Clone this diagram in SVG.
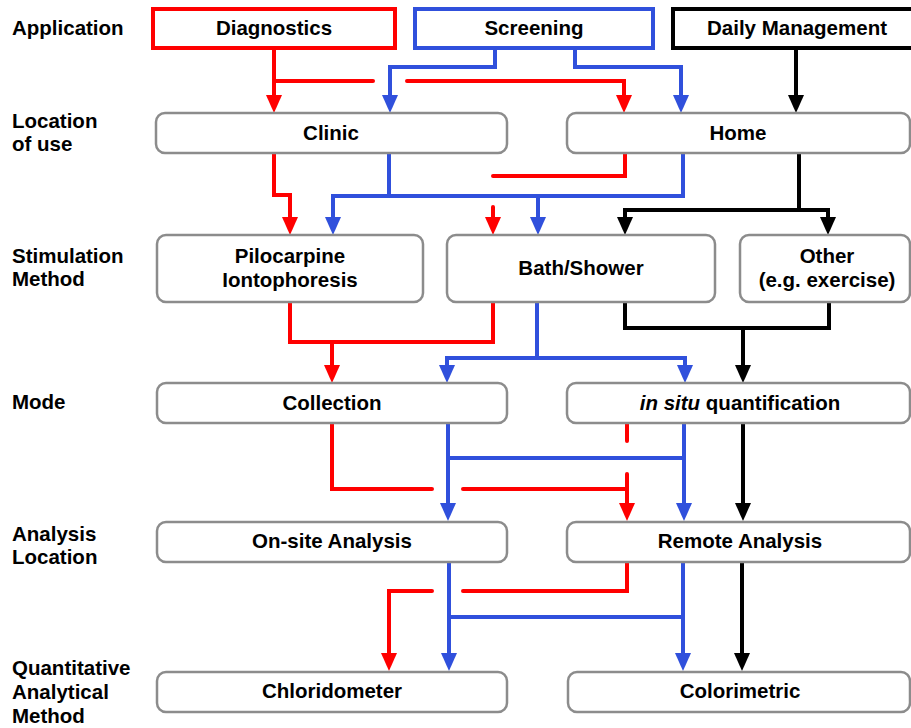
<svg xmlns="http://www.w3.org/2000/svg" width="911" height="728" viewBox="0 0 911 728">
<style>
text{font-family:"Liberation Sans",Arial,sans-serif;font-weight:bold;font-size:20.5px;fill:#000}
.lbl{text-anchor:start}
.c{text-anchor:middle}
.box{fill:#fff;stroke:#8c8c8c;stroke-width:2.5}
.top{fill:#fff;stroke-width:4}
.r{fill:none;stroke:#ff0000;stroke-width:4;stroke-linejoin:miter}
.b{fill:none;stroke:#3050dc;stroke-width:4;stroke-linejoin:miter}
.k{fill:none;stroke:#000;stroke-width:4;stroke-linejoin:miter}
.rc{stroke-linecap:round}
.ar{marker-end:url(#mr)}
.ab{marker-end:url(#mb)}
.ak{marker-end:url(#mk)}
</style>
<defs>
<marker id="mr" markerUnits="userSpaceOnUse" markerWidth="18" markerHeight="16" refX="0" refY="8" orient="auto"><path d="M0,0 L18,8 L0,16 z" fill="#ff0000"/></marker>
<marker id="mb" markerUnits="userSpaceOnUse" markerWidth="18" markerHeight="16" refX="0" refY="8" orient="auto"><path d="M0,0 L18,8 L0,16 z" fill="#3050dc"/></marker>
<marker id="mk" markerUnits="userSpaceOnUse" markerWidth="18" markerHeight="16" refX="0" refY="8" orient="auto"><path d="M0,0 L18,8 L0,16 z" fill="#000"/></marker>
</defs>
<rect width="911" height="728" fill="#fff"/>
<g id="row-labels">
<text class="lbl" x="12" y="35">Application</text>
<text class="lbl" x="12" y="128">Location</text>
<text class="lbl" x="12" y="151">of use</text>
<text class="lbl" x="12" y="263">Stimulation</text>
<text class="lbl" x="12" y="286">Method</text>
<text class="lbl" x="12" y="409">Mode</text>
<text class="lbl" x="12" y="541">Analysis</text>
<text class="lbl" x="12" y="564">Location</text>
<text class="lbl" x="12" y="675">Quantitative</text>
<text class="lbl" x="12" y="699">Analytical</text>
<text class="lbl" x="12" y="723">Method</text>
</g>
<g id="connectors">
<path class="r ar" d="M274,48 V95"/>
<path class="r rc" d="M274,81 H373"/>
<path class="r rc ar" d="M407,81 H624 V95"/>
<path class="r ar" d="M274,153 V195 H290 V217"/>
<path class="r rc" d="M625,153 V176 H493"/>
<path class="r rc ar" d="M493,207 V217"/>
<path class="r" d="M290,302 V342 H493 V302"/>
<path class="r ar" d="M332,342 V365"/>
<path class="r rc" d="M332,423 V489 H432"/>
<path class="r rc" d="M463,489 H627"/>
<path class="r rc" d="M627,423 V441"/>
<path class="r rc ar" d="M627,474 V503"/>
<path class="r rc" d="M627,562 V591 H463"/>
<path class="r rc ar" d="M432,591 H389 V653"/>
<path class="b ab" d="M495,48 V67 H390 V95"/>
<path class="b ab" d="M575,48 V67 H681 V95"/>
<path class="b" d="M389,153 V196"/>
<path class="b ab" d="M683,153 V196 H333 V217"/>
<path class="b ab" d="M538,196 V217"/>
<path class="b" d="M537,302 V358"/>
<path class="b ab" d="M537,358 H447 V365"/>
<path class="b ab" d="M537,358 H685 V365"/>
<path class="b ab" d="M448,423 V503"/>
<path class="b" d="M448,458 H684"/>
<path class="b ab" d="M684,423 V503"/>
<path class="b ab" d="M449,562 V653"/>
<path class="b" d="M449,617 H683"/>
<path class="b ab" d="M683,562 V653"/>
<path class="k ak" d="M796,48 V95"/>
<path class="k" d="M799,153 V210"/>
<path class="k ak" d="M799,210 H625 V217"/>
<path class="k ak" d="M799,210 H828 V217"/>
<path class="k" d="M625,302 V328 H829 V302"/>
<path class="k ak" d="M743,328 V365"/>
<path class="k ak" d="M743,423 V503"/>
<path class="k ak" d="M742,562 V653"/>
</g>
<g id="diagnostics"><rect class="top" x="153" y="9" width="242" height="39" stroke="#ff0000"/><text class="c" x="274" y="35">Diagnostics</text></g>
<g id="screening"><rect class="top" x="415" y="9" width="238" height="39" stroke="#3050dc"/><text class="c" x="534" y="35">Screening</text></g>
<g id="daily-management"><rect class="top" x="673" y="9" width="248" height="39" stroke="#000"/><text class="c" x="797" y="35">Daily Management</text></g>
<g id="clinic"><rect class="box" x="156" y="113" width="351" height="40" rx="9"/><text class="c" x="331" y="140">Clinic</text></g>
<g id="home"><rect class="box" x="567" y="113" width="343" height="40" rx="9"/><text class="c" x="738" y="140">Home</text></g>
<g id="pilocarpine"><rect class="box" x="157" y="235" width="266" height="67" rx="9"/><text class="c" x="290" y="263">Pilocarpine</text><text class="c" x="290" y="287">Iontophoresis</text></g>
<g id="bath-shower"><rect class="box" x="447" y="235" width="268" height="67" rx="9"/><text class="c" x="581" y="275">Bath/Shower</text></g>
<g id="other"><rect class="box" x="740" y="235" width="170" height="67" rx="9"/><text class="c" x="827" y="263">Other</text><text class="c" x="827" y="287">(e.g. exercise)</text></g>
<g id="collection"><rect class="box" x="157" y="383" width="350" height="40" rx="9"/><text class="c" x="332" y="410">Collection</text></g>
<g id="in-situ"><rect class="box" x="567" y="383" width="343" height="40" rx="9"/><text class="c" x="740" y="410"><tspan font-style="italic">in situ</tspan> quantification</text></g>
<g id="on-site"><rect class="box" x="157" y="522" width="350" height="40" rx="9"/><text class="c" x="332" y="548">On-site Analysis</text></g>
<g id="remote"><rect class="box" x="567" y="522" width="343" height="40" rx="9"/><text class="c" x="740" y="548">Remote Analysis</text></g>
<g id="chloridometer"><rect class="box" x="157" y="672" width="350" height="40" rx="9"/><text class="c" x="332" y="698">Chloridometer</text></g>
<g id="colorimetric"><rect class="box" x="568" y="672" width="342" height="40" rx="9"/><text class="c" x="740" y="698">Colorimetric</text></g>
</svg>
